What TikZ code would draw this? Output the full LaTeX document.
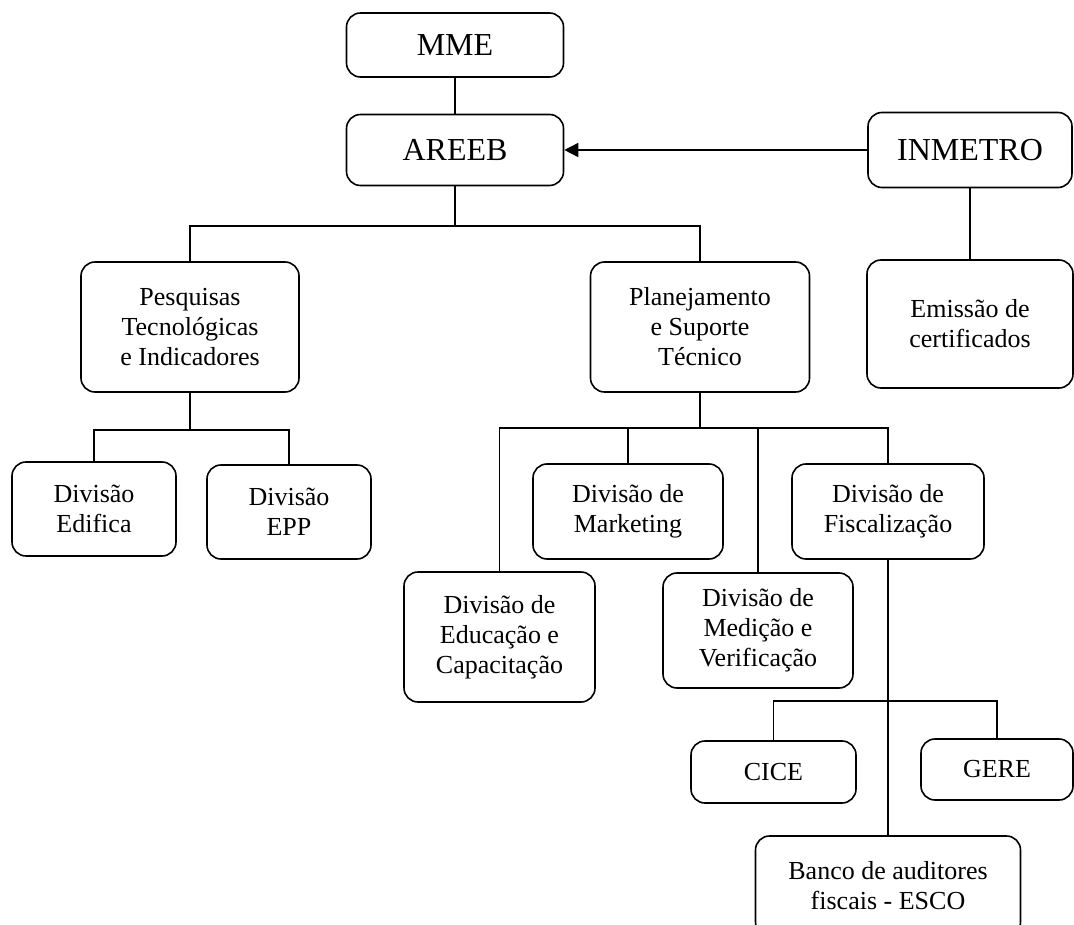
\documentclass[tikz,border=0pt]{standalone}
\usepackage{fontspec}
\setmainfont{Liberation Serif}
\usepackage{tikz}
\usetikzlibrary{arrows.meta}
\usetikzlibrary{calc}

\begin{document}
\begin{tikzpicture}[x=1pt,y=-1pt,>={Triangle[length=14pt,width=14pt]},line width=1.6pt]
 				 \tikzstyle{box}=[draw=black, rounded corners=14pt, align=center, inner sep=0pt, font=\fontsize{26}{30}\selectfont]
 				 \tikzstyle{topbox}=[box, font=\fontsize{32}{36}\selectfont]
 				 \useasboundingbox (0,0) rectangle (1074,925);
 				 \clip (0,0) rectangle (1074,925);
 					 \node[topbox, minimum width=217pt, minimum height=64pt] (mme)     at (455,45)   {MME};
 					 \node[topbox, minimum width=217pt, minimum height=71pt] (areeb)   at (455,150)  {AREEB};
 					 \node[topbox, minimum width=204pt, minimum height=75pt] (inmetro) at (970,150) {INMETRO};
 					 \node[box, minimum width=206pt, minimum height=128pt]   (emissao) at (970,324)  {Emissão de\\certificados};
 					 \node[box, minimum width=218pt, minimum height=130pt]   (pesq)    at (190,327)  {Pesquisas\\Tecnológicas\\e Indicadores};
 					 \node[box, minimum width=219pt, minimum height=130pt]   (plan)    at (700,327)  {Planejamento\\e Suporte\\Técnico};
 					 \node[box, minimum width=164pt, minimum height=94pt]    (edifica) at (94,509)   {Divisão\\Edifica};
 					 \node[box, minimum width=164pt, minimum height=94pt]    (epp)     at (289,512)  {Divisão\\EPP};
 					 \node[box, minimum width=190pt, minimum height=95pt]    (mkt)     at (628,511.5) {Divisão de\\Marketing};
 					 \node[box, minimum width=191pt, minimum height=130pt]   (educ)    at (499.5,637) {Divisão de\\Educação e\\Capacitação};
 					 \node[box, minimum width=190pt, minimum height=115pt]   (medicao) at (758,630.5) {Divisão de\\Medição e\\Verificação};
 					 \node[box, minimum width=192pt, minimum height=95pt]    (fisc)    at (888,511.5) {Divisão de\\Fiscalização};
 					 \node[box, minimum width=165pt, minimum height=62pt]    (cice)    at (773.5,772) {CICE};
 					 \node[box, minimum width=152pt, minimum height=61pt]    (gere)    at (997,769.5) {GERE};
 					 \node[box, minimum width=265pt, minimum height=100pt]   (banco)   at (888,886)  {Banco de auditores\\fiscais - ESCO};

 					  \path
 					  			(mme) edge (areeb)
 					 			(inmetro) edge[->] (areeb)
 					 			(inmetro) edge (emissao)
 					 			(fisc) edge (banco);

 					  \draw (areeb.south) -- ++(0,40) -| (pesq.north);
 					  \draw (areeb.south) -- ++(0,40) -| (plan.north);
 					  \draw (pesq.south) -- ++(0,37) -| (edifica.north);
 					  \draw (pesq.south) -- ++(0,37) -| (epp.north);
 					  \draw (plan.south) -- ++(0,35) -| (educ.north);
 					  \draw (plan.south) -- ++(0,35) -| (mkt.north);
 					  \draw (plan.south) -- ++(0,35) -| (medicao.north);
 					  \draw (plan.south) -- ++(0,35) -| (fisc.north);
 					  \draw (cice.north) -- ++(0,-39) -| (gere.north);
				\end{tikzpicture}
\end{document}
